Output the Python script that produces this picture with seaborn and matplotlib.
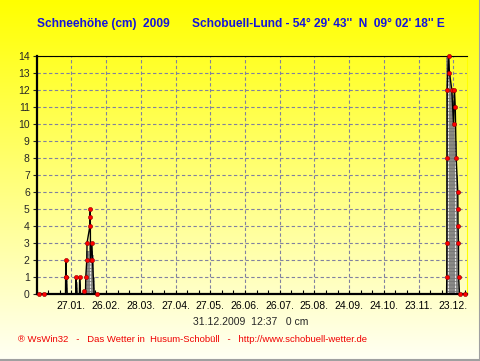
import numpy as np
import matplotlib
matplotlib.use('Agg')
import matplotlib.pyplot as plt
import seaborn as sns

# snow depth readings: day of year 2009 (0 = 01.01.) and depth in cm
snow_day = [-1.7, 2.6,
            20.9, 21.0, 21.2, 21.5, 22.3,
            29.7, 29.9, 30.8,
            32.9, 33.1, 33.9,
            36.3, 36.6, 37.2,
            38.2, 38.4, 39.3, 39.5, 42.0, 42.1, 42.3, 42.5, 43.7, 44.2, 45.6, 48.0,
            350.2, 350.4, 350.5, 350.6, 350.7, 351.9, 352.7, 354.7, 356.2, 357.0,
            357.7, 358.5, 359.9, 360.0, 360.1, 360.5, 360.6, 361.4, 365.7]
snow_cm = [0, 0,
           0, 1, 2, 1, 0,
           0, 1, 0,
           0, 1, 0,
           0, 0.2, 0,
           0, 1, 2, 3, 4, 4.5, 5, 2, 3, 2, 0, 0,
           0, 1, 3, 8, 12, 14, 13, 12, 10, 12,
           11, 8, 6, 5, 4, 3, 1, 0, 0]
# zero readings that carry a marker on the baseline
zero_marked = [-1.7, 2.6, 48.0, 361.4, 365.7]

# daily bars (hatched)
bar_day = [20.5, 21.5, 29.0, 30.0, 32.8, 36.2, 38.5, 39.5, 40.5, 41.5, 42.5, 43.5, 44.5,
           350, 351, 352, 353, 354, 355, 356, 357, 358, 359]
bar_cm = [1.7, 1.0, 0.7, 0.7, 0.5, 0.25, 2.5, 2.5, 2.5, 3.0, 2.5, 2.3, 1.0,
          14, 14, 13, 12, 12, 11, 10, 9, 7, 4]

tick_days = [26, 56, 86, 116, 146, 176, 206, 236, 266, 296, 326, 356]
tick_labels = ['27.01.', '26.02.', '28.03.', '27.04.', '27.05.', '26.06.',
               '26.07.', '25.08.', '24.09.', '24.10.', '23.11.', '23.12.']

sns.set_style('ticks')
plt.rcParams['font.family'] = ['Liberation Sans', 'DejaVu Sans']
plt.rcParams['hatch.linewidth'] = 0.5

W, H = 481, 361
fig = plt.figure(figsize=(W / 100, H / 100), dpi=100)

# yellow gradient background
bg = fig.add_axes([0, 0, 1, 1], zorder=-5)
grad = np.linspace(0, 1, 256)
img = np.zeros((256, 1, 3))
img[:, 0, 0] = 1.0
img[:, 0, 1] = 1.0
img[:, 0, 2] = 0.96 * grad
bg.imshow(img, aspect='auto', extent=[0, 1, 0, 1], origin='upper')
bg.plot([0.998, 0.998, 0], [1, 0.003, 0.003], color='#a0a0a0', lw=1.5)
bg.set_xlim(0, 1)
bg.set_ylim(0, 1)
bg.axis('off')

ax = fig.add_axes([36.7 / W, 1 - 294 / H, 430 / W, 238.5 / H])
ax.set_facecolor('none')

ax.bar(bar_day, bar_cm, width=1, align='edge', color='#e4e4e4',
       edgecolor='#606060', hatch='-----', linewidth=0.4, zorder=2)
sns.lineplot(x=snow_day, y=snow_cm, ax=ax, color='black', lw=1.0,
             estimator=None, sort=False, zorder=3)

mark_x = [d for d, v in zip(snow_day, snow_cm) if v > 0 or d in zero_marked]
mark_y = [v for d, v in zip(snow_day, snow_cm) if v > 0 or d in zero_marked]
sns.scatterplot(x=mark_x, y=mark_y, ax=ax, color='red', edgecolor='#900000',
                s=9, linewidth=0.4, zorder=4, clip_on=False)

ax.set_xlim(-3.3, 367.6)
ax.set_ylim(0, 14)
ax.set_xticks(tick_days)
ax.set_xticklabels(tick_labels)
ax.set_xticks(np.arange(-4, 368, 10), minor=True)
ax.set_yticks(range(15))
ax.tick_params(axis='x', which='both', direction='in', length=3, width=0.8,
               labelsize=7.5, pad=5, colors='black')
ax.tick_params(axis='y', direction='out', length=3, width=0.8, labelsize=7.5, pad=2)
ax.set_axisbelow(True)
ax.grid(True, which='major', ls=(0, (3, 2.2)), color='#8080a0', lw=0.8)

for side in ['left', 'bottom']:
    ax.spines[side].set_linewidth(1.6)
    ax.spines[side].set_color('black')
ax.spines['top'].set_linewidth(0.8)
ax.spines['top'].set_color('black')
ax.spines['right'].set_linewidth(0.8)
ax.spines['right'].set_color('#ffff00')

fig.text(36.7 / W, 1 - 24 / H, 'Schneehöhe (cm)  2009', color='#1414dc',
         fontsize=8.6, fontweight='bold', va='center', ha='left')
fig.text(191.7 / W, 1 - 24 / H, "Schobuell-Lund - 54° 29' 43''  N  09° 02' 18'' E",
         color='#1414dc', fontsize=8.6, fontweight='bold', va='center', ha='left')
fig.text(251 / W, 1 - 322 / H, '31.12.2009  12:37   0 cm', fontsize=7.5,
         va='center', ha='center')
fig.text(18 / W, 1 - 340 / H,
         '® WsWin32   -   Das Wetter in  Husum-Schobüll   -   http://www.schobuell-wetter.de',
         color='#f00000', fontsize=6.8, va='center', ha='left')

fig.savefig('out.png', dpi=100)
